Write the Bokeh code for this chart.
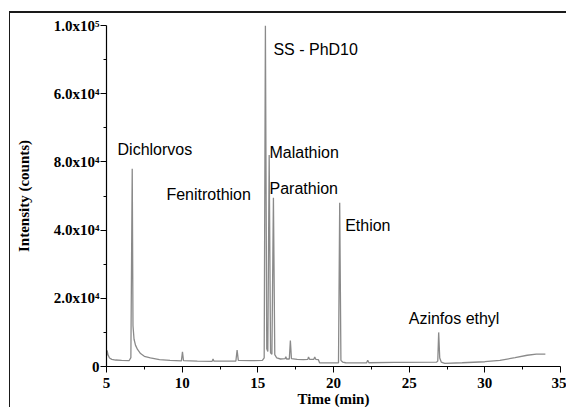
from bokeh.plotting import figure
from bokeh.models import ColumnDataSource, FixedTicker, Range1d
from bokeh.core.properties import value
from bokeh.embed import file_html
from bokeh.resources import INLINE

# Chromatogram trace (time in min, intensity in counts)
time_min = [5.00, 5.04, 5.10, 5.20, 5.35, 5.60, 6.00, 6.50, 6.61,
            6.70, 6.75, 6.82, 6.92, 7.05, 7.25, 7.50, 7.90, 8.50, 9.20,
            9.95, 10.02, 10.09, 11.00, 11.98, 12.04, 12.10, 13.00,
            13.55, 13.63, 13.71, 14.50, 15.30, 15.42,
            15.50, 15.59, 15.66, 15.75, 15.84, 15.93, 16.03, 16.12, 16.25,
            16.50, 16.80, 16.85, 16.90, 17.08, 17.15, 17.22, 17.60, 18.00,
            18.30, 18.35, 18.42, 18.70, 18.76, 18.83, 19.00, 19.08, 19.80,
            20.33, 20.41, 20.49, 20.60, 20.80, 22.18, 22.26, 22.34, 24.00,
            26.82, 26.89, 26.95, 27.02, 27.12, 27.35, 28.50, 30.00, 31.00,
            32.00, 32.80, 33.40, 34.00]
intensity = [3200, 4700, 3400, 2500, 2100, 1900, 1800, 1750, 2600,
             58000, 12000, 8000, 6200, 5000, 3800, 3000, 2500, 2000, 1800,
             1650, 4300, 1700, 1550, 1500, 2200, 1550, 1550,
             1600, 4800, 1800, 1700, 1800, 2500,
             100000, 5200, 4400, 62000, 4000, 3600, 49500, 3500, 2500,
             2200, 2300, 2900, 2200, 2200, 7600, 2300, 2100, 2000,
             2100, 2800, 2100, 2100, 2800, 2100, 2000, 1100, 1050,
             1100, 48000, 1800, 1300, 1100, 1050, 1800, 1100, 1200,
             1300, 1600, 10000, 2500, 1300, 900, 1100, 1400, 1800,
             2600, 3300, 3600, 3600]

# Peak annotations
peak_names = ["Dichlorvos", "Fenitrothion", "SS - PhD10", "Malathion",
              "Parathion", "Ethion", "Azinfos ethyl"]
peak_label_x = [5.73, 8.96, 16.03, 15.77, 15.77, 20.77, 24.97]
peak_label_y = [63600, 50400, 93000, 62800, 52200, 41400, 14200]

# Axis ticks
x_ticks = [5, 10, 15, 20, 25, 30, 35]
x_minor = [7.5, 12.5, 17.5, 22.5, 27.5, 32.5]
y_ticks = [0, 20000, 40000, 60000, 80000, 100000]
y_minor = [10000, 30000, 50000, 70000, 90000]
y_tick_labels = ["0", "2.0x10\u2074", "4.0x10\u2074", "8.0x10\u2074",
                 "6.0x10\u2074", "1.0x10\u2075"]

p = figure(width=557, height=396, output_backend="svg", toolbar_location=None,
           x_range=Range1d(5, 35), y_range=Range1d(0, 100000),
           min_border_left=96, min_border_right=7, min_border_top=12,
           min_border_bottom=42, background_fill_color="white",
           border_fill_color="white")
p.margin = (11, 0, 0, 9)
p.styles = {"border-top": "2px solid #1a1a1a", "border-left": "1px solid #1a1a1a"}
p.outline_line_color = None
p.xgrid.visible = False
p.ygrid.visible = False

src = ColumnDataSource(dict(t=time_min, v=intensity))
p.line("t", "v", source=src, line_color="#8a8a8a", line_width=1.3)

lab = ColumnDataSource(dict(x=peak_label_x, y=peak_label_y, name=peak_names))
p.text(x="x", y="y", text="name", source=lab, text_font=value("Liberation Sans"),
       text_font_size=value("16px"), text_baseline="alphabetic",
       text_align="left", text_color="black")

serif = "Liberation Serif"
xa = p.xaxis[0]
xa.ticker = FixedTicker(ticks=x_ticks, minor_ticks=x_minor)
xa.axis_label = "Time (min)"
ya = p.yaxis[0]
ya.ticker = FixedTicker(ticks=y_ticks, minor_ticks=y_minor)
ya.major_label_overrides = {t: s for t, s in zip(y_ticks, y_tick_labels)}
ya.axis_label = "Intensity (counts)"
for ax in (xa, ya):
    ax.axis_line_color = "black"
    ax.axis_line_width = 1.2
    ax.major_tick_line_color = "black"
    ax.minor_tick_line_color = "black"
    ax.major_tick_in = 0
    ax.minor_tick_in = 0
    ax.major_tick_out = 6
    ax.minor_tick_out = 3
    ax.major_label_text_font = serif
    ax.major_label_text_font_style = "bold"
    ax.major_label_text_font_size = "15px"
    ax.major_label_text_color = "black"
    ax.axis_label_text_font = serif
    ax.axis_label_text_font_style = "bold"
    ax.axis_label_text_font_size = "15px"
    ax.axis_label_text_color = "black"
xa.major_label_standoff = 5
xa.axis_label_standoff = 0
ya.major_label_standoff = 1
ya.axis_label_standoff = 19

open("out.html", "w").write(file_html(p, INLINE))
